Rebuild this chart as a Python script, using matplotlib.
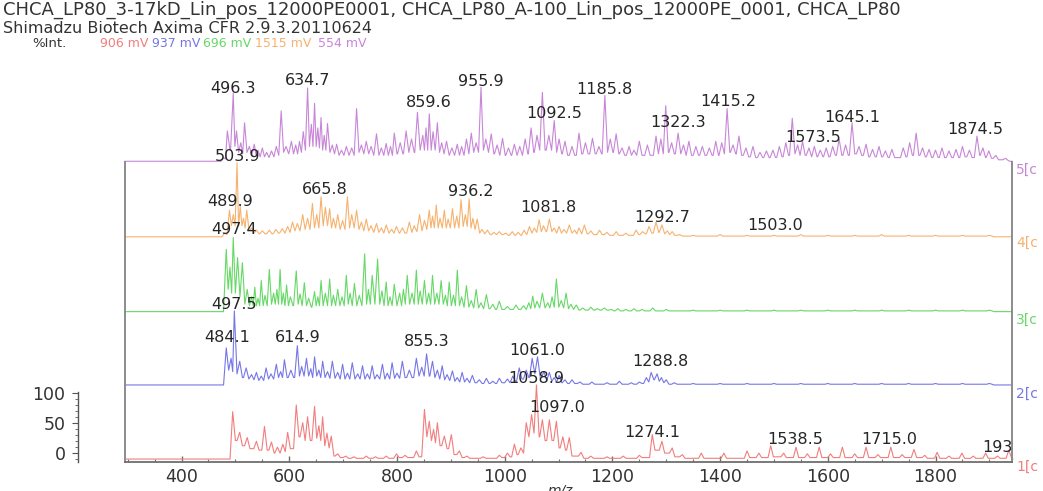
import matplotlib
matplotlib.use("Agg")
import matplotlib.pyplot as plt
from matplotlib.ticker import MultipleLocator

W, H = 1043, 491
fig = plt.figure(figsize=(W / 100, H / 100), dpi=100)
plt.rcParams['font.family'] = ['DejaVu Sans']

# ---------------- data: peak m/z, apex intensity (%), floor level after the peak (%) ----------------
red_mz = [495, 508, 522, 539, 554, 567, 578, 588, 597, 613,
          625, 634, 647, 655, 662, 670, 678, 690, 705, 720,
          743, 760, 780, 799, 815, 836, 851, 860, 868, 875,
          888, 901, 916, 930, 960, 990, 1005, 1018, 1030, 1040,
          1050, 1059, 1070, 1083, 1096, 1108, 1120, 1142, 1160, 1190,
          1220, 1250, 1274, 1292, 1311, 1330, 1365, 1407, 1450, 1472,
          1494, 1518, 1541, 1562, 1584, 1605, 1627, 1650, 1671, 1693,
          1717, 1738, 1760, 1780, 1803, 1825, 1849, 1870, 1893, 1915,
          1936]
red_int = [64, 36, 29, 24, 44, 23, 16, 20, 36, 73,
           49, 57, 71, 45, 57, 35, 31, 7, 4, 3,
           4, 3, 4, 7, 5, 11, 67, 51, 40, 49,
           31, 33, 11, 4, 3, 5, 8, 20, 15, 49,
           60, 100, 53, 53, 51, 30, 29, 9, 4, 3,
           4, 5, 33, 24, 15, 6, 8, 8, 11, 8,
           18, 8, 16, 7, 16, 7, 16, 7, 16, 6,
           16, 6, 13, 5, 9, 4, 8, 4, 8, 4,
           12]
red_floor = [25, 18, 14, 12, 12, 8, 8, 10, 14, 30,
             25, 25, 28, 25, 18, 15, 4, 2, 1, 1,
             1, 1, 1, 2, 2, 3, 30, 25, 22, 18,
             14, 6, 2, 1, 1, 2, 3, 6, 8, 30,
             35, 30, 25, 25, 15, 12, 4, 1, 1, 1,
             1, 2, 12, 8, 3, 1, 1, 1, 2, 2,
             3, 2, 2, 2, 2, 2, 2, 2, 2, 2,
             2, 2, 2, 1, 1, 1, 1, 1, 1, 1,
             2]

blue_mz = [483, 492, 498, 508, 520, 530, 539, 548, 557, 566,
           576, 584, 591, 603, 615, 623, 632, 640, 647, 655,
           662, 671, 680, 690, 699, 708, 717, 727, 736, 745,
           754, 763, 773, 782, 791, 800, 810, 823, 836, 846,
           855, 866, 875, 884, 893, 903, 912, 921, 930, 940,
           953, 966, 978, 990, 1005, 1015, 1027, 1040, 1051, 1061,
           1073, 1083, 1092, 1101, 1112, 1125, 1140, 1162, 1190, 1213,
           1235, 1250, 1263, 1272, 1283, 1291, 1300, 1315, 1350, 1400,
           1450, 1500, 1550, 1600, 1650, 1700, 1750, 1800, 1850, 1900]
blue_int = [50, 36, 100, 32, 23, 14, 17, 12, 23, 15,
            28, 18, 34, 20, 53, 25, 36, 22, 38, 20,
            32, 18, 32, 17, 28, 16, 30, 15, 26, 15,
            26, 14, 28, 16, 30, 16, 32, 20, 36, 24,
            42, 32, 20, 26, 14, 19, 10, 17, 9, 13,
            7, 9, 5, 9, 8, 12, 23, 20, 36, 38,
            18, 17, 10, 13, 7, 7, 4, 4, 3, 5,
            3, 4, 10, 17, 15, 10, 7, 3, 2, 2,
            2, 2, 2, 2, 2, 2, 2, 2, 2, 2]
blue_floor = [20, 18, 15, 10, 8, 7, 6, 6, 8, 8,
              10, 10, 10, 10, 12, 12, 12, 10, 12, 10,
              10, 9, 9, 8, 8, 8, 8, 8, 8, 8,
              8, 8, 8, 8, 9, 9, 10, 10, 12, 12,
              12, 10, 8, 7, 6, 5, 4, 4, 3, 3,
              2, 2, 2, 3, 3, 5, 8, 10, 15, 10,
              6, 5, 4, 3, 2, 2, 1, 1, 1, 1,
              1, 2, 4, 7, 5, 3, 1, 1, 1, 1,
              1, 1, 1, 1, 1, 1, 1, 1, 1, 1]

green_mz = [483, 490, 496, 504, 513, 522, 530, 536, 542, 548,
            555, 563, 571, 577, 583, 589, 595, 602, 613, 620,
            628, 636, 647, 653, 659, 667, 675, 682, 690, 698,
            706, 713, 721, 730, 740, 747, 754, 764, 772, 780,
            787, 795, 805, 812, 819, 828, 836, 843, 851, 859,
            866, 874, 882, 890, 897, 905, 912, 920, 929, 938,
            947, 956, 966, 978, 990, 1005, 1021, 1035, 1045, 1052,
            1060, 1070, 1080, 1088, 1096, 1105, 1114, 1123, 1133, 1145,
            1160, 1172, 1185, 1198, 1210, 1225, 1240, 1255, 1275, 1300,
            1350, 1400, 1450, 1500, 1550, 1600, 1650, 1700, 1750, 1800,
            1850, 1900]
green_int = [84, 60, 100, 73, 66, 30, 20, 33, 18, 42,
             22, 57, 25, 30, 57, 25, 36, 20, 55, 24,
             39, 18, 27, 20, 42, 25, 44, 22, 30, 20,
             49, 25, 38, 22, 78, 30, 49, 71, 28, 40,
             20, 37, 25, 30, 49, 25, 56, 28, 42, 25,
             49, 25, 42, 22, 40, 22, 56, 20, 35, 15,
             30, 12, 23, 10, 14, 7, 9, 8, 12, 21,
             14, 25, 12, 20, 44, 15, 25, 10, 9, 5,
             6, 4, 5, 3, 4, 3, 4, 3, 5, 3,
             2, 2, 2, 2, 2, 2, 2, 2, 2, 2,
             2, 2]
green_floor = [30, 25, 25, 20, 10, 8, 8, 8, 8, 8,
               8, 10, 10, 10, 10, 8, 8, 8, 10, 8,
               8, 6, 8, 8, 8, 8, 8, 8, 8, 8,
               10, 8, 8, 8, 10, 10, 10, 10, 8, 8,
               8, 8, 8, 10, 10, 10, 10, 10, 10, 10,
               10, 10, 10, 8, 8, 8, 8, 6, 6, 5,
               5, 4, 4, 3, 3, 3, 3, 3, 4, 5,
               5, 5, 5, 6, 6, 5, 4, 3, 2, 2,
               2, 2, 2, 1, 1, 1, 1, 1, 1, 1,
               1, 1, 1, 1, 1, 1, 1, 1, 1, 1,
               1, 1]

orange_mz = [480, 489, 496, 503, 509, 515, 521, 530, 539, 550,
             563, 575, 587, 597, 606, 615, 625, 634, 643, 651,
             659, 667, 675, 682, 690, 699, 708, 716, 725, 734,
             743, 752, 762, 771, 780, 790, 799, 810, 823, 832,
             842, 851, 860, 866, 873, 880, 888, 895, 903, 911,
             919, 927, 934, 941, 949, 958, 968, 980, 990, 1002,
             1014, 1025, 1036, 1046, 1055, 1064, 1072, 1083, 1092, 1101,
             1110, 1120, 1130, 1138, 1148, 1160, 1176, 1190, 1207, 1225,
             1244, 1256, 1268, 1281, 1292, 1302, 1311, 1325, 1350, 1400,
             1450, 1500, 1550, 1600, 1650, 1700, 1750, 1800, 1850, 1900]
orange_int = [5, 36, 30, 100, 41, 25, 36, 12, 9, 8,
              9, 10, 11, 14, 20, 18, 30, 25, 45, 30,
              54, 40, 38, 25, 30, 22, 54, 30, 36, 20,
              24, 15, 18, 12, 16, 10, 14, 12, 20, 15,
              30, 22, 36, 28, 43, 25, 36, 24, 38, 28,
              50, 30, 51, 25, 24, 10, 9, 6, 7, 5,
              7, 6, 9, 14, 12, 23, 15, 24, 12, 14,
              10, 16, 9, 12, 16, 8, 9, 6, 7, 5,
              9, 7, 14, 20, 16, 8, 7, 3, 2, 3,
              2, 2, 3, 2, 2, 3, 2, 2, 2, 2]
orange_floor = [3, 15, 15, 15, 15, 12, 8, 5, 4, 4,
                4, 5, 5, 6, 8, 8, 10, 10, 12, 12,
                15, 15, 12, 12, 10, 10, 12, 12, 10, 8,
                8, 6, 6, 5, 5, 5, 5, 5, 6, 7,
                8, 10, 12, 12, 12, 12, 12, 12, 12, 12,
                14, 14, 12, 10, 5, 4, 3, 3, 3, 2,
                2, 2, 3, 5, 6, 7, 7, 7, 5, 5,
                5, 5, 4, 4, 4, 3, 3, 2, 2, 2,
                3, 4, 5, 6, 4, 3, 2, 1, 1, 1,
                1, 1, 1, 1, 1, 1, 1, 1, 1, 1]

purple_mz = [478, 485, 496, 502, 510, 517, 526, 535, 542, 550,
             558, 567, 576, 585, 594, 604, 612, 619, 626, 634,
             641, 647, 653, 659, 665, 671, 680, 688, 697, 706,
             716, 725, 734, 743, 752, 762, 771, 780, 788, 795,
             806, 817, 827, 838, 848, 854, 860, 867, 875, 883,
             892, 902, 912, 920, 929, 938, 947, 956, 965, 975,
             986, 996, 1007, 1018, 1028, 1038, 1049, 1060, 1070, 1082,
             1092, 1101, 1112, 1125, 1138, 1150, 1163, 1175, 1186, 1196,
             1207, 1218, 1231, 1240, 1250, 1265, 1281, 1290, 1299, 1310,
             1322, 1332, 1342, 1355, 1367, 1380, 1392, 1403, 1413, 1424,
             1435, 1448, 1461, 1474, 1486, 1498, 1510, 1522, 1534, 1544,
             1553, 1565, 1575, 1586, 1597, 1609, 1621, 1633, 1645, 1658,
             1671, 1683, 1695, 1707, 1719, 1740, 1752, 1764, 1776, 1788,
             1800, 1812, 1825, 1838, 1850, 1863, 1877, 1888, 1899, 1912,
             1930]
purple_int = [5, 41, 92, 41, 25, 52, 20, 23, 15, 18,
              12, 14, 20, 68, 20, 27, 22, 27, 40, 99,
              50, 78, 45, 59, 35, 51, 22, 23, 15, 20,
              18, 71, 22, 27, 20, 37, 18, 24, 20, 38,
              25, 41, 30, 66, 35, 45, 64, 40, 52, 25,
              27, 18, 23, 20, 30, 38, 25, 100, 30, 37,
              22, 31, 18, 23, 20, 30, 45, 35, 93, 35,
              55, 30, 27, 20, 38, 25, 31, 20, 89, 30,
              37, 18, 20, 15, 27, 22, 34, 30, 75, 25,
              38, 22, 27, 20, 20, 18, 27, 25, 71, 22,
              34, 18, 20, 12, 14, 15, 20, 25, 58, 22,
              27, 18, 20, 15, 18, 20, 30, 22, 52, 20,
              23, 16, 20, 14, 16, 18, 25, 38, 18, 16,
              15, 18, 14, 16, 20, 15, 34, 18, 14, 8,
              4]
purple_floor = [3, 15, 20, 12, 10, 12, 8, 8, 6, 6,
                5, 6, 8, 12, 10, 10, 10, 12, 15, 20,
                20, 20, 18, 15, 15, 12, 10, 8, 8, 8,
                8, 12, 10, 10, 8, 8, 8, 8, 8, 10,
                10, 12, 12, 15, 15, 15, 15, 15, 12, 10,
                8, 8, 8, 8, 10, 12, 12, 15, 12, 10,
                8, 8, 8, 8, 8, 10, 12, 15, 15, 15,
                12, 10, 8, 8, 10, 10, 10, 10, 12, 12,
                10, 8, 8, 8, 8, 8, 10, 10, 12, 10,
                10, 8, 8, 8, 8, 8, 8, 10, 12, 10,
                8, 6, 5, 5, 5, 5, 6, 8, 10, 8,
                8, 6, 6, 6, 6, 8, 8, 8, 10, 8,
                6, 6, 6, 5, 5, 6, 8, 8, 6, 5,
                5, 5, 5, 5, 6, 5, 8, 5, 4, 2,
                1]

# peak annotations: label text and label height (relative %)
red_lab = ["1058.9", "1097.0", "1274.1", "1538.5", "1715.0", "1938.1"]
red_lab_y = [109, 69, 36, 26, 26, 15]
blue_lab = ["497.5", "484.1", "614.9", "855.3", "1061.0", "1288.8"]
blue_lab_y = [109, 64, 64, 58, 47, 31]
green_lab = ["497.4"]
green_lab_y = [111]
orange_lab = ["503.9", "489.9", "665.8", "936.2", "1081.8", "1292.7", "1503.0"]
orange_lab_y = [109, 47, 64, 61, 39, 26, 15]
purple_lab = ["496.3", "634.7", "859.6", "955.9", "1092.5", "1185.8", "1322.3", "1415.2", "1573.5", "1645.1", "1874.5"]
purple_lab_y = [98, 109, 79, 107, 64, 97, 52, 80, 32, 59, 43]

mv_labels = ["906 mV", "937 mV", "696 mV", "1515 mV", "554 mV"]
trace_tags = ["1[c", "2[c", "3[c", "4[c", "5[c"]
x_ticks = [400, 600, 800, 1000, 1200, 1400, 1600, 1800]

# ---------------- style ----------------
XMIN, XMAX = 295, 1942
colors = ['#f27d7d', '#7676e6', '#66d866', '#f6b26e', '#c886d8']
offsets = [0, 100, 199, 300, 402]
HW = 5.0

ax = fig.add_axes([125 / W, (H - 462) / H, (1012 - 125) / W, 300 / H])
ax.set_xlim(XMIN, XMAX)
ax.set_ylim(-4, 401)
ax.patch.set_alpha(0)

series = [(red_mz, red_int, red_floor), (blue_mz, blue_int, blue_floor),
          (green_mz, green_int, green_floor), (orange_mz, orange_int, orange_floor),
          (purple_mz, purple_int, purple_floor)]
for (mz, inten, floor), col, off in zip(series, colors, offsets):
    xs = [XMIN]
    ys = [off]
    prev = 0
    n = len(mz)
    for i in range(n):
        m = mz[i]
        gl = (m - mz[i - 1]) / 2 if i > 0 else HW
        gr = (mz[i + 1] - m) / 2 if i < n - 1 else HW
        xs += [m - min(HW, gl), m, m + min(HW, gr)]
        ys += [off + prev, off + inten[i], off + floor[i]]
        prev = floor[i]
    xs += [mz[-1] + HW + 3, XMAX]
    ys += [off, off]
    ax.plot(xs, ys, color=col, lw=0.8, clip_on=False)

labsets = [(red_lab, red_lab_y), (blue_lab, blue_lab_y), (green_lab, green_lab_y),
           (orange_lab, orange_lab_y), (purple_lab, purple_lab_y)]
for (labs, ly), off in zip(labsets, offsets):
    for t, y in zip(labs, ly):
        m = float(t)
        ax.text(m, off + y, t, ha='center', va='center', fontsize=11.5, color='#262626',
                clip_on=(m > 1900))

ax.spines['top'].set_visible(False)
for s in ['left', 'right']:
    ax.spines[s].set_color('#8c8c8c')
    ax.spines[s].set_linewidth(1.4)
ax.spines['bottom'].set_color('#6e6e6e')
ax.spines['bottom'].set_linewidth(1.3)
ax.set_yticks([])
ax.set_xticks(x_ticks)
ax.set_xticklabels([str(v) for v in x_ticks])
ax.xaxis.set_minor_locator(MultipleLocator(50))
ax.tick_params(axis='x', which='major', direction='in', length=4, width=1, color='#6e6e6e',
               labelsize=12.5, labelcolor='#333333', pad=4)
ax.tick_params(axis='x', which='minor', direction='in', length=2, width=0.8, color='#6e6e6e')

# small intensity scale
ax2 = fig.add_axes([78 / W, (H - 462) / H, 0.5 / W, 70 / H])
ax2.set_ylim(-15, 101.7)
ax2.patch.set_alpha(0)
for s in ['top', 'right', 'bottom']:
    ax2.spines[s].set_visible(False)
ax2.spines['left'].set_color('#555555')
ax2.spines['left'].set_linewidth(1.0)
ax2.set_xticks([])
ax2.set_yticks([0, 50, 100])
ax2.yaxis.set_minor_locator(MultipleLocator(10))
ax2.tick_params(axis='y', which='major', direction='out', length=4, color='#555555',
                labelsize=12.5, labelcolor='#333333', pad=5)
ax2.tick_params(axis='y', which='minor', direction='out', length=2, color='#555555')

# header
fig.text(3 / W, 1 - 15 / H, "CHCA_LP80_3-17kD_Lin_pos_12000PE0001, CHCA_LP80_A-100_Lin_pos_12000PE_0001, CHCA_LP80",
         ha='left', va='baseline', fontsize=13, color='#333333')
fig.text(3 / W, 1 - 33 / H, "Shimadzu Biotech Axima CFR 2.9.3.20110624",
         ha='left', va='baseline', fontsize=11.5, color='#333333')
fig.text(32 / W, 1 - 47 / H, "%Int.", ha='left', va='baseline', fontsize=9.5, color='#333333')
mv_x = [100, 152, 203, 255, 318]
for t, x, c in zip(mv_labels, mv_x, colors):
    fig.text(x / W, 1 - 47 / H, t, ha='left', va='baseline', fontsize=9, color=c)

tag_y = [467, 394, 320, 243, 170]
for t, y, c in zip(trace_tags, tag_y, colors):
    fig.text(1016 / W, 1 - y / H, t, ha='left', va='center', fontsize=10, color=c)

fig.text(560 / W, 1 - 484 / H, "m/z", ha='center', va='top', fontsize=10, style='italic', color='#333333')

fig.savefig("out.png", dpi=100)
